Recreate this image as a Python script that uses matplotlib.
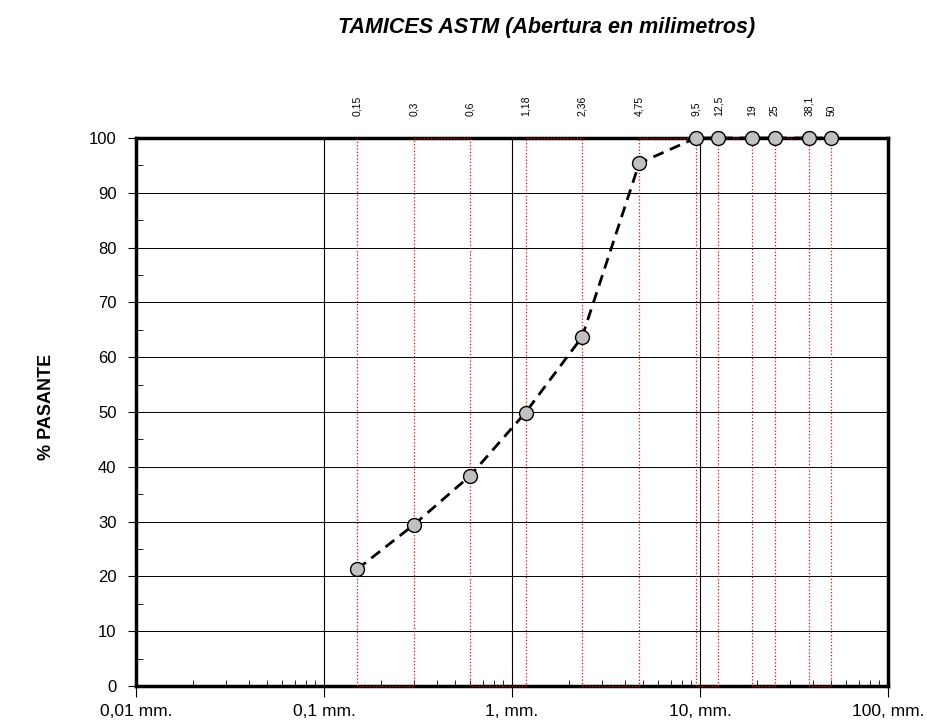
import numpy as np
import matplotlib.pyplot as plt

plt.rcParams['font.family'] = ['Liberation Sans', 'DejaVu Sans']

sieve_mm = [0.15, 0.3, 0.6, 1.18, 2.36, 4.75, 9.5, 12.5, 19, 25, 38.1, 50]
sieve_labels = ['0,15', '0,3', '0,6', '1,18', '2,36', '4,75', '9,5', '12,5', '19', '25', '38,1', '50']
passing = [21.3, 29.4, 38.4, 49.9, 63.7, 95.4, 100, 100, 100, 100, 100, 100]
decades = [0.01, 0.1, 1, 10, 100]
decade_labels = ['0,01 mm.', '0,1 mm.', '1, mm.', '10, mm.', '100, mm.']

fig = plt.figure(figsize=(9.28, 7.22), dpi=100)
ax = fig.add_axes([136/928, 1-686/722, 752/928, 548/722])
ax.set_xscale('log')
ax.set_xlim(0.01, 100)
ax.set_ylim(0, 100)

# red zigzag through the sieve openings
zx, zy = [], []
for i, s in enumerate(sieve_mm):
    ends = [100, 0] if i % 2 == 0 else [0, 100]
    zx += [s, s]
    zy += ends
ax.plot(zx, zy, color='red', lw=0.9, ls=':', zorder=3, clip_on=False)

for y in range(10, 100, 10):
    ax.axhline(y, color='black', lw=0.7, zorder=1)
for d in decades[1:-1]:
    ax.axvline(d, color='black', lw=0.8, zorder=1)

ax.plot(sieve_mm, passing, ls='--', color='black', lw=2, dashes=(4, 2.5),
        marker='o', ms=10, mfc='#c0c0c0', mec='black', mew=1, zorder=4, clip_on=False)

for sp in ax.spines.values():
    sp.set_linewidth(2.5)

ax.set_xticks(decades)
ax.set_xticklabels(decade_labels, fontsize=12.5)
ax.set_yticks(range(0, 101, 10))
ax.set_yticks(range(5, 100, 10), minor=True)
ax.tick_params(axis='y', labelsize=12, direction='out', length=6, pad=8)
ax.tick_params(axis='y', which='minor', direction='in', length=5)
ax.tick_params(axis='x', which='major', direction='out', length=8, pad=5)
ax.tick_params(axis='x', which='minor', direction='in', length=4)

for s, lab in zip(sieve_mm, sieve_labels):
    ax.annotate(lab, xy=(s, 100), xytext=(0, 16), textcoords='offset points',
                rotation=90, ha='center', va='bottom', fontsize=7.5)

fig.text(547/928, 1-28/722, 'TAMICES ASTM (Abertura en milimetros)', ha='center', va='center',
         fontsize=15.5, fontweight='bold', fontstyle='italic')
fig.text(47/928, 1-407/722, '% PASANTE', rotation=90, ha='center', va='center',
         fontsize=13, fontweight='bold')

fig.savefig('out.png', dpi=100)
